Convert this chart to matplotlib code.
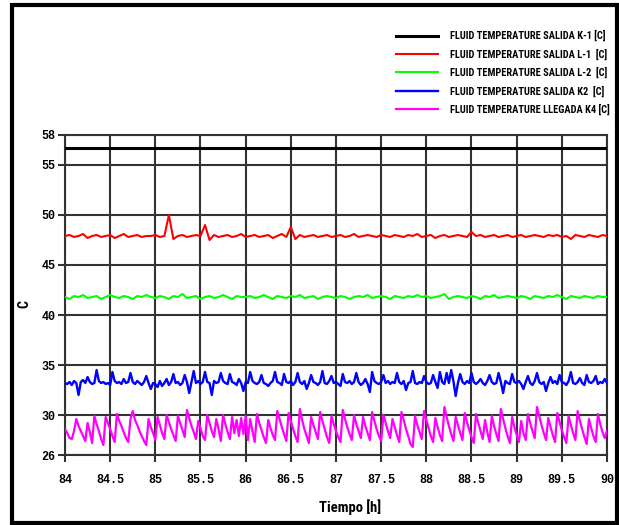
import numpy as np
import matplotlib
matplotlib.use('Agg')
import matplotlib.pyplot as plt
from matplotlib.patches import Rectangle
from matplotlib import font_manager

# time axis (hours)
t_fast = np.arange(84.0, 90.0001, 0.025)
t_slow = np.arange(84.0, 90.0001, 0.05)
t_black = [84.0, 90.0]

labels = ['FLUID TEMPERATURE SALIDA K-1 [C]',
          'FLUID TEMPERATURE SALIDA L-1  [C]',
          'FLUID TEMPERATURE SALIDA L-2  [C]',
          'FLUID TEMPERATURE SALIDA K2  [C]',
          'FLUID TEMPERATURE LLEGADA K4 [C]']
colors = ['#000000', '#ff0000', '#00ff00', '#0000ff', '#ff00ff']

k1 = [56.7, 56.7]

l1 = [47.9, 48.0, 47.8, 47.9, 48.1, 47.7, 47.9, 48.0, 47.8, 47.9, 48.0, 47.7, 47.9, 48.1, 47.8, 47.9, 48.0, 47.8, 47.9, 47.9,
      48.0, 47.8, 47.9, 50.0, 47.6, 47.9, 48.0, 47.8, 47.9, 48.0, 47.9, 49.0, 47.5, 48.0, 47.8, 47.9, 48.0, 47.8, 47.9, 48.1,
      47.8, 47.9, 48.0, 47.8, 47.9, 48.0, 47.7, 47.9, 48.1, 47.8, 48.8, 47.6, 48.0, 47.8, 47.9, 48.0, 47.8, 47.9, 48.0, 47.8,
      47.9, 48.0, 47.8, 47.9, 48.1, 47.8, 47.9, 48.0, 47.9, 47.8, 48.0, 47.9, 47.8, 48.0, 47.9, 47.8, 48.0, 47.9, 48.1, 47.8,
      47.9, 48.0, 47.7, 47.9, 48.0, 47.8, 47.9, 48.0, 47.9, 47.8, 48.3, 47.9, 48.0, 47.8, 47.9, 48.0, 47.8, 47.9, 48.0, 47.8,
      47.9, 48.0, 47.8, 47.9, 48.0, 47.9, 47.8, 48.0, 47.9, 48.0, 47.8, 47.9, 47.6, 48.0, 47.9, 47.8, 48.0, 47.9, 47.8, 48.0,
      47.9]

l2 = [41.8, 41.6, 41.9, 41.8, 42.0, 41.7, 41.8, 41.9, 41.6, 41.8, 42.0, 41.8, 41.7, 41.9, 41.8, 41.6, 41.9, 41.8, 42.0, 41.8,
      41.7, 41.9, 41.8, 41.6, 41.9, 41.8, 42.1, 41.7, 41.8, 41.9, 41.6, 41.8, 41.9, 41.7, 41.8, 42.0, 41.8, 41.6, 41.9, 41.8,
      41.8, 41.9, 41.7, 41.8, 42.0, 41.8, 41.6, 41.9, 41.8, 41.7, 41.9, 41.8, 42.0, 41.7, 41.8, 41.9, 41.6, 41.8, 41.9, 41.8,
      41.7, 41.9, 41.8, 41.6, 41.8, 41.9, 41.8, 42.0, 41.7, 41.8, 41.9, 41.8, 41.6, 41.9, 41.8, 41.7, 41.9, 41.8, 42.0, 41.8,
      41.9, 41.7, 41.8, 41.9, 42.1, 41.6, 41.8, 41.9, 41.8, 41.7, 41.9, 41.8, 41.6, 41.9, 41.8, 42.0, 41.7, 41.8, 41.9, 41.8,
      41.7, 41.9, 41.8, 41.6, 41.9, 41.8, 41.7, 41.9, 41.8, 42.0, 41.8, 41.6, 41.9, 41.8, 41.7, 41.9, 41.8, 41.7, 41.9, 41.8,
      41.8]

k2 = [33.2, 33.1, 33.3, 33.0, 33.4, 33.2, 32.0, 33.3, 33.5, 33.2, 33.8, 33.3, 33.1, 33.2, 34.5, 33.4, 33.2, 33.3, 33.1, 33.2,
      33.0, 34.3, 33.4, 33.2, 33.3, 33.1, 33.6, 33.2, 33.3, 34.2, 33.3, 33.1, 33.4, 33.2, 33.0, 33.3, 33.9, 33.2, 32.6, 33.2,
      33.1, 32.8, 33.4, 32.9, 33.2, 33.6, 33.0, 33.3, 34.1, 33.2, 33.3, 33.0, 33.2, 34.0, 33.3, 32.2, 33.3, 34.4, 33.2, 33.4,
      33.1, 33.3, 34.3, 33.3, 33.2, 32.0, 33.4, 33.2, 33.3, 34.2, 33.4, 33.2, 33.1, 34.1, 33.3, 33.2, 33.0, 33.6, 33.2, 32.4,
      33.3, 33.2, 34.3, 33.4, 33.2, 33.1, 33.3, 34.0, 33.2, 33.1, 32.9, 33.2, 33.4, 34.3, 33.3, 33.2, 33.0, 34.1, 33.3, 33.2,
      33.4, 33.0, 33.3, 34.2, 33.3, 33.1, 33.4, 32.6, 33.2, 34.0, 33.3, 33.2, 33.0, 33.3, 34.4, 33.2, 33.1, 33.4, 33.9, 33.2,
      33.3, 33.1, 32.9, 34.1, 33.3, 33.2, 33.4, 33.1, 33.3, 34.2, 33.3, 33.0, 33.2, 33.6, 33.1, 32.3, 34.3, 33.4, 33.2, 33.1,
      33.3, 34.0, 33.2, 33.4, 33.1, 33.3, 33.2, 34.2, 33.3, 33.1, 33.4, 32.5, 33.2, 33.3, 34.4, 33.2, 33.1, 33.3, 33.2, 33.9,
      33.3, 33.1, 33.2, 34.0, 33.3, 32.7, 34.3, 33.3, 33.1, 34.2, 33.2, 34.5, 33.4, 31.9, 33.2, 34.1, 33.3, 33.1, 33.4, 33.2,
      34.2, 33.3, 33.1, 33.3, 33.6, 33.2, 33.0, 33.4, 34.0, 33.3, 33.1, 33.2, 34.2, 33.3, 32.2, 33.4, 33.2, 33.1, 34.1, 33.3,
      33.2, 33.4, 33.1, 32.6, 33.3, 33.9, 33.2, 33.0, 33.4, 34.2, 33.3, 33.1, 33.3, 32.4, 33.2, 33.8, 33.2, 33.4, 33.1, 34.0,
      33.3, 33.2, 33.0, 33.4, 34.3, 33.2, 33.1, 33.3, 33.7, 33.2, 33.0, 34.0, 33.3, 33.2, 33.4, 33.9, 33.1, 33.3, 33.2, 33.6,
      33.2]

k4 = [28.6, 28.2, 27.7, 27.6, 28.4, 29.6, 28.9, 28.4, 27.9, 27.4, 29.2, 28.3, 27.2, 29.9, 29.1, 28.4, 27.6, 27.0, 29.8, 29.2,
      28.6, 27.9, 27.3, 30.1, 29.4, 28.9, 28.3, 27.7, 27.3, 29.6, 30.4, 29.5, 29.0, 28.4, 27.9, 27.4, 27.0, 29.6, 28.8, 28.2,
      27.5, 29.8, 29.0, 28.2, 27.6, 30.0, 29.3, 28.6, 28.0, 27.4, 29.9, 29.2, 28.5, 27.8, 30.5, 29.7, 28.9, 28.3, 27.6, 29.4,
      28.7, 27.9, 27.5, 30.0, 29.2, 28.4, 27.8, 29.6, 28.6, 27.4, 30.0, 29.1, 28.3, 27.6, 29.8, 28.2, 29.5, 27.9, 29.7, 28.1,
      29.9, 27.5, 29.6, 28.4, 27.3, 30.1, 29.2, 28.5, 27.8, 27.2, 29.5, 28.7, 28.0, 27.5, 30.4, 29.6, 28.8, 28.1, 27.4, 30.2,
      29.4, 28.6, 27.9, 27.3, 30.6, 29.5, 28.6, 27.9, 27.2, 29.8, 29.0, 28.3, 27.6, 30.3, 29.4, 28.6, 27.8, 27.2, 29.9, 29.1,
      28.4, 27.8, 27.3, 30.5, 29.6, 28.8, 28.1, 27.5, 30.0, 29.1, 28.4, 27.7, 29.8, 28.9, 28.2, 27.5, 30.3, 29.4, 28.6, 27.9,
      27.4, 30.0, 29.2, 28.4, 27.7, 29.6, 28.8, 28.0, 27.3, 30.3, 29.5, 28.6, 27.9, 27.1, 26.8, 29.9, 29.0, 28.3, 27.6, 30.4,
      29.5, 28.7, 27.9, 27.3, 29.7, 28.8, 28.0, 27.4, 30.8, 29.8, 28.9, 28.1, 27.4, 29.8, 29.0, 28.2, 27.5, 30.2, 29.3, 28.5,
      27.8, 27.2, 30.1, 29.2, 28.4, 27.6, 29.5, 28.3, 27.3, 29.9, 28.9, 28.1, 27.4, 30.6, 29.6, 28.7, 27.9, 27.2, 29.8, 28.8,
      28.0, 27.3, 29.4, 28.2, 27.5, 30.1, 29.2, 28.4, 27.7, 30.8, 29.9, 29.0, 28.2, 27.5, 29.7, 28.8, 28.0, 27.3, 30.2, 29.3,
      28.5, 27.8, 27.2, 29.9, 29.0, 28.2, 27.5, 30.4, 29.4, 28.6, 27.8, 27.1, 29.6, 28.7, 27.9, 27.3, 30.1, 29.1, 28.3, 27.7,
      28.4]

xticks = [84, 84.5, 85, 85.5, 86, 86.5, 87, 87.5, 88, 88.5, 89, 89.5, 90]
xticklabels = ['84', '84.5', '85', '85.5', '86', '86.5', '87', '87.5', '88', '88.5', '89', '89.5', '90']
yticks = [26, 30, 35, 40, 45, 50, 55, 58]

# pick a condensed face if one is installed, else plain Liberation Sans
installed = {f.name for f in font_manager.fontManager.ttflist}
narrow = [f for f in ['Roboto Condensed', 'Open Sans Condensed', 'DejaVu Sans Condensed']
          if f in installed][:1] + ['Liberation Sans', 'DejaVu Sans']
condensed = narrow[0] != 'Liberation Sans'
mono = ['Liberation Mono', 'DejaVu Sans Mono']

fig = plt.figure(figsize=(6.19, 5.25), dpi=100)
ax = fig.add_axes([0.105, 0.1333, 0.8756, 0.6096])

series = [(t_black, k1), (t_slow, l1), (t_slow, l2), (t_fast, k2), (t_fast, k4)]
widths = [2.2, 1.5, 1.5, 1.7, 1.6]
for (t, v), c, lab, lw in zip(series, colors, labels, widths):
    ax.plot(t, v, color=c, linewidth=lw, label=lab, zorder=3)

ax.set_xlim(84, 90)
ax.set_ylim(26, 58)
ax.set_xticks(xticks)
ax.set_xticklabels(xticklabels, family=mono, fontweight='bold', fontsize=8.5)
ax.set_yticks(yticks)
ax.set_yticklabels([str(y) for y in yticks], family=mono, fontweight='bold', fontsize=8.5)
ax.tick_params(axis='x', direction='out', length=5, width=1.5, pad=9, color='#333333')
ax.tick_params(axis='y', direction='out', length=5, width=1.5, pad=2, color='#333333')
ax.grid(True, color='#333333', linewidth=1.5)
ax.set_axisbelow(True)
for s in ax.spines.values():
    s.set_color('#333333')
    s.set_linewidth(1.5)

fig.text(350 / 619, 1 - 507 / 525, 'Tiempo [h]', family=narrow, fontweight='bold',
         fontsize=10.5 if condensed else 8.5, ha='center', va='center')
fig.text(24 / 619, 1 - 304 / 525, 'C', family=narrow, fontweight='bold',
         fontsize=10, ha='center', va='center', rotation=90)

fig.legend(loc='upper left', bbox_to_anchor=(391 / 619, 1 - 25 / 525), frameon=False,
           prop={'family': narrow, 'weight': 'bold', 'size': 7.5 if condensed else 6},
           handlelength=4.0 if condensed else 5.0, handletextpad=1.2,
           labelspacing=0.68 if condensed else 1.0, borderpad=0)

fig.patches.append(Rectangle((12 / 619, 2 / 525), 605 / 619, 518 / 525, transform=fig.transFigure,
                             fill=False, edgecolor='black', linewidth=3))

fig.savefig('out.png', dpi=100)
